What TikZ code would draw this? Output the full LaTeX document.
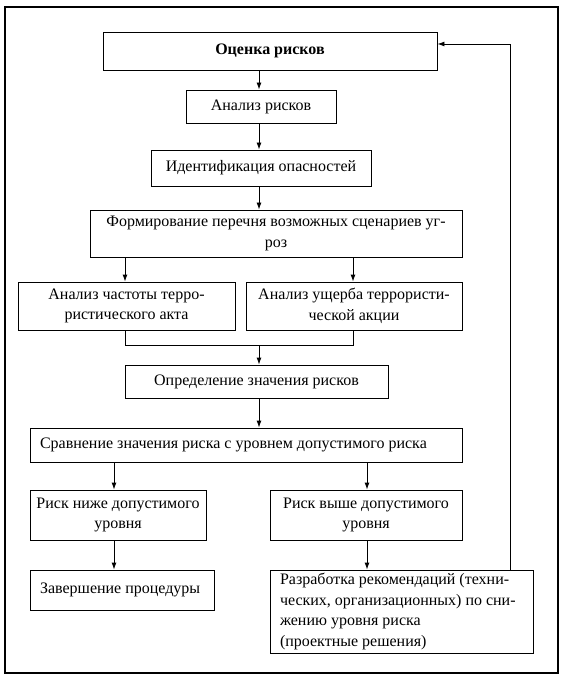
\documentclass[tikz,border=0pt]{standalone}
\usepackage{fontspec}
\setmainfont{Liberation Serif}
\usetikzlibrary{arrows.meta}
\begin{document}
\begin{tikzpicture}[x=1pt,y=-1pt,
  box/.style={draw, line width=0.9pt, inner sep=2pt, align=center, font=\fontsize{16}{20.5}\selectfont},
  lbox/.style={box, inner xsep=10pt, align=flush left},
  arr/.style={line width=0.9pt, -{Latex[length=7pt,width=5pt]}},
  ln/.style={line width=0.9pt}]
\useasboundingbox (0,0) rectangle (566,684);
\node[draw, line width=1.2pt, minimum width=553pt, minimum height=666pt, inner sep=0pt] (frame) at (281.5,340) {};
\node[box, minimum width=334pt, minimum height=38pt, font=\bfseries\fontsize{16}{20.5}\selectfont] (b1) at (270,51) {Оценка рисков};
\node[box, minimum width=150pt, minimum height=33pt] (b2) at (261,106.5) {Анализ рисков};
\node[box, minimum width=220pt, minimum height=36pt] (b3) at (261,168) {Идентификация опасностей};
\node[box, minimum width=372pt, minimum height=47pt] (b4) at (276,233.5) {Формирование перечня возможных сценариев уг-\\роз};
\node[box, minimum width=217pt, minimum height=48pt] (b5) at (126.5,306) {Анализ частоты терро-\\ристического акта};
\node[box, minimum width=216pt, minimum height=48pt] (b6) at (354,306) {Анализ ущерба террористи-\\ческой акции};
\node[box, minimum width=263pt, minimum height=33pt] (b7) at (256.5,381.5) {Определение значения рисков};
\node[lbox, text width=412pt, minimum height=34pt] (b8) at (246,445) {Сравнение значения риска с уровнем допустимого риска};
\node[box, minimum width=176pt, minimum height=50pt] (b9) at (118,515) {Риск ниже допустимого\\уровня};
\node[box, minimum width=192pt, minimum height=50pt] (b10) at (366,515) {Риск выше допустимого\\уровня};
\node[lbox, text width=164pt, minimum height=40pt] (b11) at (122,590) {Завершение процедуры};
\node[lbox, text width=243pt, minimum height=83pt] (b12) at (401.5,611.5) {Разработка рекомендаций (техни-\\ческих, организационных) по сни-\\жению уровня риска\\(проектные решения)};
\coordinate (xc) at (259,0);
\coordinate (xl) at (125,0);
\coordinate (xr) at (353,0);
\coordinate (xl2) at (114,0);
\coordinate (xr2) at (367,0);
\coordinate (xf) at (510,44);
\coordinate (m) at (259,345);
\draw[arr] (xc |- b1.south) -- (xc |- b2.north);
\draw[arr] (xc |- b2.south) -- (xc |- b3.north);
\draw[arr] (xc |- b3.south) -- (xc |- b4.north);
\draw[arr] (xl |- b4.south) -- (xl |- b5.north);
\draw[arr] (xr |- b4.south) -- (xr |- b6.north);
\draw[ln] (xl |- b5.south) -- (xl |- m) -- (xr |- m) -- (xr |- b6.south);
\draw[arr] (m) -- (xc |- b7.north);
\draw[arr] (xc |- b7.south) -- (xc |- b8.north);
\draw[arr] (xl2 |- b8.south) -- (xl2 |- b9.north);
\draw[arr] (xr2 |- b8.south) -- (xr2 |- b10.north);
\draw[arr] (xl2 |- b9.south) -- (xl2 |- b11.north);
\draw[arr] (xr2 |- b10.south) -- (xr2 |- b12.north);
\draw[arr] (xf |- b12.north) -- (xf) -- (b1.east |- xf);
\end{tikzpicture}
\end{document}
